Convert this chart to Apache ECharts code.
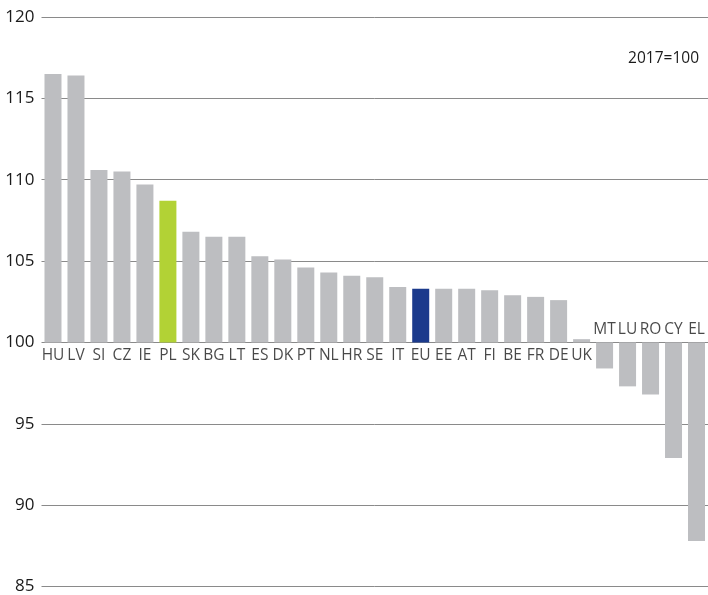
<!DOCTYPE html>
<html>
<head>
<meta charset="utf-8">
<script src="https://cdn.jsdelivr.net/npm/echarts@6/dist/echarts.min.js"></script>
<style>
  html, body { margin: 0; padding: 0; background: #fff; }
  #chart { width: 708px; height: 595px; }
</style>
</head>
<body>
<div id="chart"></div>
<script>
// Index values, 2017 = 100
const countries = ['HU','LV','SI','CZ','IE','PL','SK','BG','LT','ES','DK','PT','NL','HR','SE','IT','EU','EE','AT','FI','BE','FR','DE','UK','MT','LU','RO','CY','EL'];
const indexValues = [116.5,116.4,110.6,110.5,109.7,108.7,106.8,106.5,106.5,105.3,105.1,104.6,104.3,104.1,104.0,103.4,103.3,103.3,103.3,103.2,102.9,102.8,102.6,100.2,98.4,97.3,96.8,92.9,87.8];
const yTicks = [85, 90, 95, 100, 105, 110, 115, 120];
const baseYear = 100;
const highlight = { PL: '#b2d235', EU: '#1b3a8c' };
const barGrey = '#bdbec1';
const FONT = '"Open Sans", "Noto Sans", sans-serif';
const TEXT = '#1a1a1a';

// Bars grow from the 100 line, so values are plotted as offsets from it
const offsets = indexValues.map(v => +(v - baseYear).toFixed(2));

const chart = echarts.init(document.getElementById('chart'));
chart.setOption({
  animation: false,
  grid: { left: 41.5, right: 0, top: 17, bottom: 8, containLabel: false },
  xAxis: {
    type: 'category',
    data: countries,
    axisLine: { show: false },
    axisTick: { show: false },
    axisLabel: { show: false }
  },
  yAxis: {
    type: 'value',
    min: yTicks[0] - baseYear,
    max: yTicks[yTicks.length - 1] - baseYear,
    interval: 5,
    axisLine: { show: false },
    axisTick: { show: false },
    splitLine: { lineStyle: { color: '#8a8a8a', width: 1 } },
    axisLabel: {
      margin: 7,
      color: TEXT,
      fontFamily: FONT,
      fontSize: 17,
      formatter: v => String(v + baseYear)
    }
  },
  series: [
    {
      type: 'bar',
      barWidth: 17,
      data: offsets.map((v, i) => ({
        value: v,
        itemStyle: { color: highlight[countries[i]] || barGrey }
      })),
      z: 3
    },
    {
      // Country codes sitting on the 100 line: below for gains, above for losses
      type: 'scatter',
      symbolSize: 0,
      silent: true,
      data: offsets.map((v, i) => ({
        value: 0,
        label: {
          show: true,
          formatter: countries[i],
          position: v >= 0 ? 'bottom' : 'top',
          distance: v >= 0 ? 5 : 5
        }
      })),
      label: { color: TEXT, fontFamily: FONT, fontSize: 15.5 },
      z: 4
    }
  ],
  graphic: [
    {
      type: 'text',
      right: 9,
      top: 51,
      style: { text: '2017=100', fill: TEXT, font: '15.5px ' + FONT }
    }
  ]
});
</script>
</body>
</html>
